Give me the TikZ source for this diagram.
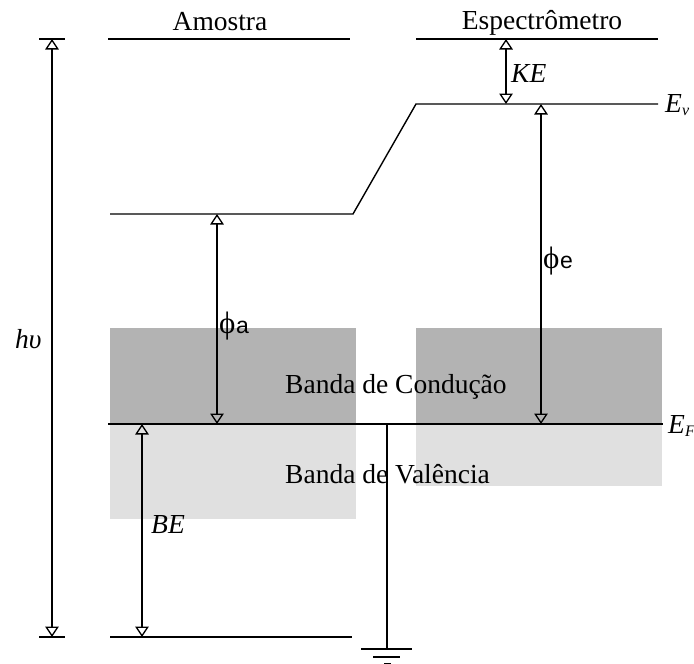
\documentclass[tikz,border=0pt]{standalone}
\usepackage{fontspec}
\setmainfont{Liberation Serif}
\newfontfamily\labsans{Liberation Sans}
\usetikzlibrary{arrows.meta}
\definecolor{cband}{RGB}{179,179,179}
\definecolor{vband}{RGB}{224,224,224}
\begin{document}
\begin{tikzpicture}[x=1pt,y=-1pt,
  lvl/.style={line width=1.4pt},
  dimarrow/.style={line width=1.3pt,{Triangle[open,length=10.5pt,width=13.5pt]}-{Triangle[open,length=10.5pt,width=13.5pt]}},
  lab/.style={inner sep=0pt,font=\fontsize{27.5}{33}\selectfont},
  mlab/.style={inner sep=0pt,font=\fontsize{27.5}{33}\selectfont\itshape},
  philab/.style={inner sep=0pt,font=\fontsize{31}{36}\selectfont}]
\useasboundingbox (0,0) rectangle (694,664);
% bands
\fill[cband] (110,328) rectangle (356,424);
\fill[cband] (416,328) rectangle (662,424);
\fill[vband] (110,424) rectangle (356,519);
\fill[vband] (416,424) rectangle (662,486);
% coordinates
\coordinate (topAL) at (108,39);
\coordinate (topAR) at (350,39);
\coordinate (topEL) at (416,39);
\coordinate (topER) at (658,39);
\coordinate (vacAL) at (110,214);
\coordinate (vacAR) at (353,214);
\coordinate (vacEL) at (416,104);
\coordinate (vacER) at (658,104);
\coordinate (fermiL) at (108,424);
\coordinate (fermiR) at (663,424);
\coordinate (botL) at (110,637);
\coordinate (botR) at (352,637);
\coordinate (tickTL) at (39,39);
\coordinate (tickTR) at (65,39);
\coordinate (tickBL) at (39,637);
\coordinate (tickBR) at (65,637);
\coordinate (hvT) at (52,39);
\coordinate (hvB) at (52,637);
\coordinate (keT) at (506,39);
\coordinate (keB) at (506,104);
\coordinate (phieT) at (541,104);
\coordinate (phieB) at (541,424);
\coordinate (phiaT) at (217,214);
\coordinate (phiaB) at (217,424);
\coordinate (beT) at (142,424);
\coordinate (beB) at (142,637);
\coordinate (gndT) at (387,424);
\coordinate (gndB) at (387,649);
\coordinate (g1L) at (361,649);
\coordinate (g1R) at (412,649);
\coordinate (g2L) at (373,657);
\coordinate (g2R) at (400,657);
\coordinate (g3L) at (384,664);
\coordinate (g3R) at (391,664);
% levels
\draw[lvl] (topAL) -- (topAR);
\draw[lvl] (topEL) -- (topER);
\draw[lvl,line join=miter] (vacAL) -- (vacAR) -- (vacEL) -- (vacER);
\draw[lvl] (fermiL) -- (fermiR);
\draw[lvl] (botL) -- (botR);
\draw[lvl] (tickTL) -- (tickTR);
\draw[lvl] (tickBL) -- (tickBR);
% ground
\draw[lvl] (gndT) -- (gndB);
\draw[lvl] (g1L) -- (g1R);
\draw[lvl] (g2L) -- (g2R);
\draw[lvl] (g3L) -- (g3R);
% arrows
\draw[dimarrow] (hvB) -- (hvT);
\draw[dimarrow] (keB) -- (keT);
\draw[dimarrow] (phieB) -- (phieT);
\draw[dimarrow] (phiaB) -- (phiaT);
\draw[dimarrow] (beB) -- (beT);
% texts
\node[lab,anchor=base] (amostra) at (220,30) {Amostra};
\node[lab,anchor=base] (espec) at (542,29) {Espectrômetro};
\node[lab,anchor=base west] (cond) at (285,393) {Banda de Condução};
\node[lab,anchor=base west] (val) at (285,483) {Banda de Valência};
\node[mlab,anchor=base west] (hv) at (15,348) {hυ};
\node[mlab,anchor=base west] (ke) at (511,82) {KE};
\node[mlab,anchor=base west] (be) at (151,533) {BE};
\node[mlab,anchor=base west] (ev) at (665,112) {E\raisebox{-3pt}{\fontsize{16}{18}\selectfont v}};
\node[mlab,anchor=base west] (ef) at (668,433) {E\raisebox{-3pt}{\fontsize{16}{18}\selectfont F}};
\node[philab,anchor=base west] (phia) at (219,333) {\char"03D5\kern0.5pt{\labsans\fontsize{23}{26}\selectfont a}};
\node[philab,anchor=base west] (phie) at (543,268) {\char"03D5\kern0.5pt{\labsans\fontsize{23}{26}\selectfont e}};
\end{tikzpicture}
\end{document}
